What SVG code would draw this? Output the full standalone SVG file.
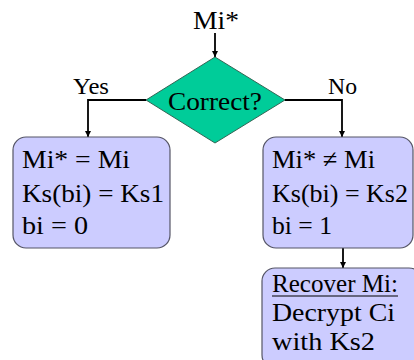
<svg xmlns="http://www.w3.org/2000/svg" width="414" height="360" viewBox="0 0 414 360">
  <defs>
    <marker id="arrow" viewBox="0 0 10 10" refX="10" refY="5" markerWidth="6" markerHeight="7" markerUnits="userSpaceOnUse" orient="auto">
      <path d="M0,0 L10,5 L0,10 z" fill="#000"/>
    </marker>
    <style>
      text { font-family: "Liberation Serif", "Times New Roman", serif; fill: #000; }
      .lbl { font-size: 26px; }
      .small { font-size: 23px; }
      .box { fill: #ccccff; stroke: #555566; stroke-width: 1.2; }
      .decision { fill: #00cc99; stroke: #336655; stroke-width: 1; }
      .conn { fill: none; stroke: #000; stroke-width: 1.8; }
    </style>
  </defs>
  <rect width="414" height="360" fill="#ffffff"/>

  <g id="connectors">
    <line class="conn" x1="215" y1="33" x2="215" y2="57" marker-end="url(#arrow)"/>
    <polyline class="conn" points="146,100 88,100 88,137" marker-end="url(#arrow)"/>
    <polyline class="conn" points="285,100 342,100 342,137" marker-end="url(#arrow)"/>
    <line class="conn" x1="343" y1="248" x2="343" y2="268" marker-end="url(#arrow)"/>
    <text class="small" x="73" y="94" textLength="36" lengthAdjust="spacingAndGlyphs">Yes</text>
    <text class="small" x="328" y="94" textLength="29" lengthAdjust="spacingAndGlyphs">No</text>
  </g>

  <g id="input">
    <text class="lbl" x="193" y="29" textLength="46" lengthAdjust="spacingAndGlyphs">Mi*</text>
  </g>

  <g id="check">
    <polygon class="decision" points="215,57 285,100 215,143 146,100"/>
    <text class="lbl" x="168" y="110" textLength="94" lengthAdjust="spacingAndGlyphs">Correct?</text>
  </g>

  <g id="match">
    <rect class="box" x="13" y="137" width="157" height="111" rx="13" ry="13"/>
    <text class="lbl" x="22" y="168" textLength="108" lengthAdjust="spacingAndGlyphs">Mi* = Mi</text>
    <text class="lbl" x="22" y="202" textLength="142" lengthAdjust="spacingAndGlyphs">Ks(bi) = Ks1</text>
    <text class="lbl" x="22" y="234" textLength="66" lengthAdjust="spacingAndGlyphs">bi = 0</text>
  </g>

  <g id="mismatch">
    <rect class="box" x="263" y="137" width="150" height="111" rx="13" ry="13"/>
    <text class="lbl" x="272" y="168" textLength="103" lengthAdjust="spacingAndGlyphs">Mi* ≠ Mi</text>
    <text class="lbl" x="272" y="202" textLength="136" lengthAdjust="spacingAndGlyphs">Ks(bi) = Ks2</text>
    <text class="lbl" x="272" y="234" textLength="60" lengthAdjust="spacingAndGlyphs">bi = 1</text>
  </g>

  <g id="recover">
    <rect class="box" x="262" y="268" width="160" height="100" rx="13" ry="13"/>
    <text class="lbl" x="272" y="292" textLength="126" lengthAdjust="spacingAndGlyphs">Recover Mi:</text>
    <line x1="272" y1="296" x2="398" y2="296" stroke="#000" stroke-width="1.2"/>
    <text class="lbl" x="272" y="321" textLength="123" lengthAdjust="spacingAndGlyphs">Decrypt Ci</text>
    <text class="lbl" x="272" y="350" textLength="103" lengthAdjust="spacingAndGlyphs">with Ks2</text>
  </g>
</svg>
